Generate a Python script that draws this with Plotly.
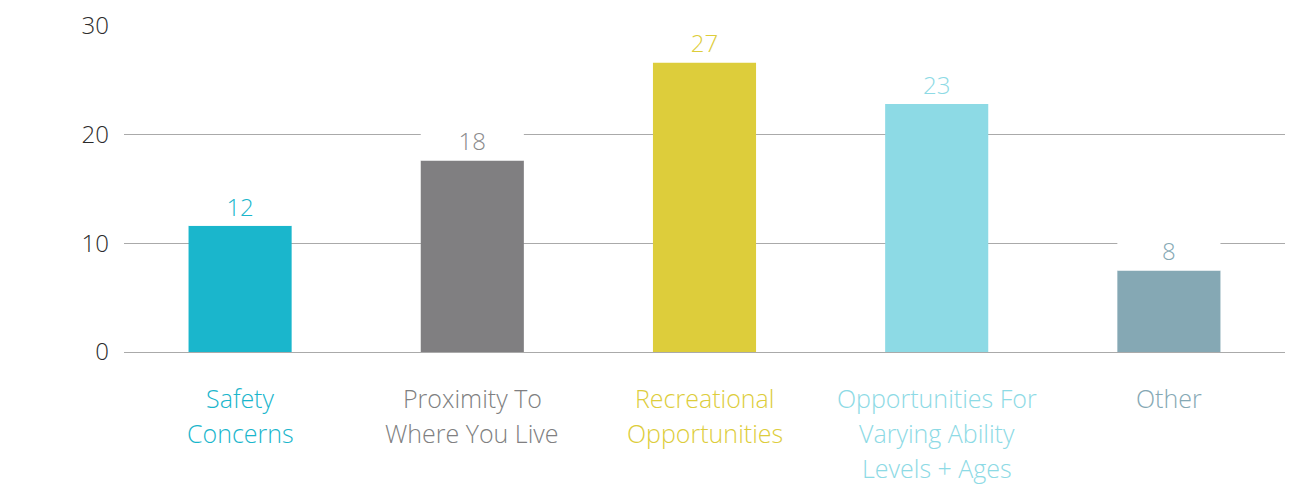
import plotly.graph_objects as go

categories = ["Safety Concerns", "Proximity To Where You Live", "Recreational Opportunities",
              "Opportunities For Varying Ability Levels + Ages", "Other"]
tick_lines = [["Safety", "Concerns"], ["Proximity To", "Where You Live"],
              ["Recreational", "Opportunities"],
              ["Opportunities For", "Varying Ability", "Levels + Ages"], ["Other"]]
values = [11.6, 17.6, 26.6, 22.8, 7.5]
colors = ["#1AB6CC", "#807F81", "#DDCD3B", "#8DDAE5", "#85A8B4"]
text_colors = ["#1AB6CC", "#8A8A8C", "#DDCD3B", "#8DDAE5", "#85A8B4"]

cover = 3.6  # white label background height (style)
font_family = "'Open Sans', Lato, sans-serif"

fig = go.Figure()
fig.add_trace(go.Bar(
    x=categories, y=values, marker=dict(color=colors, line=dict(width=0)),
    hoverinfo="skip", showlegend=False,
))
fig.add_trace(go.Bar(
    x=categories, y=[cover] * len(values), base=values,
    marker=dict(color="white", line=dict(width=0)),
    text=[f"{round(v)}" for v in values], textposition="inside", insidetextanchor="middle",
    textangle=0, constraintext="none",
    insidetextfont=dict(color=text_colors, size=24, family=font_family, weight=300),
    hoverinfo="skip", showlegend=False,
))

annotations = []
for cat, lines, c in zip(categories, tick_lines, colors):
    for i, line in enumerate(lines):
        annotations.append(dict(
            x=cat, y=0, xref="x", yref="y", text=line, showarrow=False,
            yanchor="middle", xanchor="center", yshift=-(46 + 35 * i),
            font=dict(size=25, color=c, family=font_family, weight=300),
        ))

fig.update_layout(
    width=1302, height=479,
    margin=dict(l=116, r=25, t=17, b=135),
    paper_bgcolor="white", plot_bgcolor="white",
    barmode="overlay", bargap=0.556,
    font=dict(family=font_family),
    annotations=annotations,
    xaxis=dict(showticklabels=False, showgrid=False, showline=False, ticks="",
               automargin=False, fixedrange=True),
    yaxis=dict(range=[0, 30.05], tickvals=[0, 10, 20, 30], showgrid=True,
               gridcolor="#AAAAAA", gridwidth=1, zeroline=True, zerolinecolor="#AAAAAA",
               zerolinewidth=1, showline=False, ticks="", automargin=False,
               ticklabeloverflow="allow",
               tickfont=dict(size=24, color="#2B2B2B", family=font_family, weight=300),
               ticklabelstandoff=14),
)

fig.write_html("out.html")
